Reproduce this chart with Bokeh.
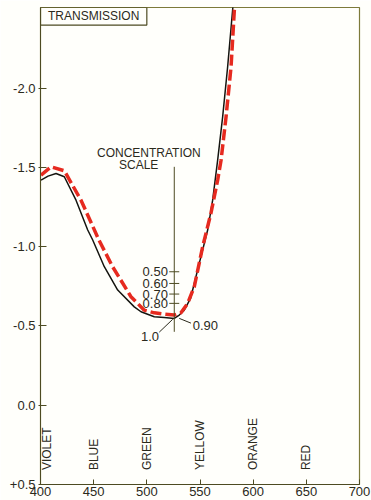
import math
from bokeh.plotting import figure
from bokeh.models import Range1d, FixedTicker, Label
from bokeh.embed import file_html
from bokeh.resources import INLINE
from bokeh.core.properties import value

# ---- data ----
black_wl = [400.5, 407.1, 414.6, 422.4, 433.4, 444.4, 449.1, 460.0, 472.6, 488.2,
            494.5, 507.0, 516.4, 525.8, 530.5, 535.2, 541.1, 549.3, 557.2, 561.9,
            566.6, 571.3, 576.0, 580.8, 582.0]
black_val = [-1.423, -1.448, -1.465, -1.444, -1.296, -1.107, -1.044, -0.875, -0.727, -0.621,
             -0.590, -0.558, -0.554, -0.548, -0.569, -0.600, -0.674, -0.896, -1.107, -1.296,
             -1.549, -1.823, -2.140, -2.509, -2.600]

red_wl = [400.5, 409.9, 422.4, 438.1, 455.0, 467.9, 485.1, 497.6, 507.0, 516.4,
          525.8, 532.1, 538.4, 544.6, 552.5, 560.3, 566.6, 569.8, 574.5, 579.2,
          582.3, 583.5]
red_val = [-1.454, -1.507, -1.482, -1.296, -1.043, -0.874, -0.685, -0.600, -0.583, -0.575,
           -0.569, -0.583, -0.643, -0.748, -1.001, -1.214, -1.423, -1.549, -1.823, -2.140,
           -2.498, -2.600]

xtick_values = [400, 450, 500, 550, 600, 650, 700]
ytick_values = [0.5, 0.0, -0.5, -1.0, -1.5, -2.0]
ytick_labels = ["+0.5", "0.0", "-0.5", "-1.0", "-1.5", "-2.0"]

color_names = ["VIOLET", "BLUE", "GREEN", "YELLOW", "ORANGE", "RED"]
color_wl = [400, 450, 500, 550, 600, 650]
color_label_y = 0.412

conc_labels = ["0.50", "0.60", "0.70", "0.80"]
conc_vals = [-0.843, -0.769, -0.702, -0.643]
scale_wl = 525.8
scale_top = -1.507
scale_bottom = -0.463

note_labels = ["0.90", "1.0"]
note_x = [543.1, 503.0]
note_y = [-0.506, -0.436]
leader_x0 = [530.5, 511.7]
leader_y0 = [-0.548, -0.461]
leader_x1 = [541.5, 524.3]
leader_y1 = [-0.518, -0.542]

title_text = "TRANSMISSION"
title_left, title_right, title_bottom = 400, 500, -2.404
scale_title = ["CONCENTRATION", "SCALE"]
scale_title_x = [501.9, 492.3]
scale_title_y = [-1.592, -1.518]

# ---- styling ----
INK = "#2b2a1c"
AXIS = "#4d4b22"
FRAME = "#7d7a3a"
BG = "#fffffb"
FONT = "Liberation Sans"

y_top = -2.515
p = figure(width=371, height=500,
           x_range=Range1d(400, 700), y_range=Range1d(0.503, y_top),
           output_backend="svg", toolbar_location=None,
           min_border_left=40, min_border_right=12,
           min_border_top=7, min_border_bottom=16)
p.background_fill_color = BG
p.border_fill_color = BG
p.outline_line_color = FRAME
p.outline_line_width = 1.2
p.xgrid.visible = False
p.ygrid.visible = False

p.xaxis.ticker = FixedTicker(ticks=xtick_values)
p.xaxis.major_tick_in = 5
p.xaxis.major_tick_out = 0
p.xaxis.minor_tick_line_color = None
p.xaxis.axis_line_color = AXIS
p.xaxis.major_tick_line_color = AXIS
p.xaxis.major_label_standoff = 2
p.xaxis.major_label_text_font = FONT
p.xaxis.major_label_text_font_size = "13px"
p.xaxis.major_label_text_color = INK

p.yaxis.ticker = FixedTicker(ticks=ytick_values)
p.yaxis.major_label_overrides = dict(zip(ytick_values, ytick_labels))
p.yaxis.major_tick_in = 6
p.yaxis.major_tick_out = 2
p.yaxis.minor_tick_line_color = None
p.yaxis.axis_line_color = AXIS
p.yaxis.major_tick_line_color = AXIS
p.yaxis.major_label_standoff = 3
p.yaxis.major_label_text_font = FONT
p.yaxis.major_label_text_font_size = "13px"
p.yaxis.major_label_text_color = INK

# curves
p.line(black_wl, black_val, line_color="#151510", line_width=1.5)
p.line(red_wl, red_val, line_color="#e62a1f", line_width=3.5, line_dash="11 4")

# title box
p.quad(left=[title_left], right=[title_right], top=[y_top], bottom=[title_bottom],
       fill_color=None, line_color=AXIS, line_width=1.2)
p.text(x=[(title_left + title_right) / 2], y=[(y_top + title_bottom) / 2], text=[title_text],
       text_font=value(FONT), text_font_size="12px", text_color=INK,
       text_align="center", text_baseline="middle")

# concentration scale
p.text(x=scale_title_x, y=scale_title_y, text=scale_title,
       text_font=value(FONT), text_font_size="12px", text_color=INK,
       text_align="center", text_baseline="middle")
p.segment(x0=[scale_wl], y0=[scale_top], x1=[scale_wl], y1=[scale_bottom],
          line_color=AXIS, line_width=1)
p.segment(x0=[scale_wl - 4.7] * len(conc_vals), y0=conc_vals,
          x1=[scale_wl + 4.7] * len(conc_vals), y1=conc_vals,
          line_color=AXIS, line_width=1)
p.text(x=[scale_wl - 6.0] * len(conc_vals), y=conc_vals, text=conc_labels,
       text_font=value(FONT), text_font_size="13px", text_color=INK,
       text_align="right", text_baseline="middle")
p.segment(x0=leader_x0, y0=leader_y0, x1=leader_x1, y1=leader_y1,
          line_color=INK, line_width=1)
p.text(x=[note_x[0]], y=[note_y[0]], text=[note_labels[0]],
       text_font=value(FONT), text_font_size="13px", text_color=INK,
       text_align="left", text_baseline="middle")
p.text(x=[note_x[1]], y=[note_y[1]], text=[note_labels[1]],
       text_font=value(FONT), text_font_size="13px", text_color=INK,
       text_align="center", text_baseline="middle")

# colour names along the wavelength axis
for name, wl in zip(color_names, color_wl):
    lab = Label(x=wl, y=color_label_y, text=name, angle=math.pi / 2,
                text_align="left", text_baseline="middle",
                text_font=FONT, text_font_size="12px", text_color=INK)
    if wl == 400:
        lab.x_offset = 6
    p.add_layout(lab)

open("out.html", "w").write(file_html(p, INLINE))
